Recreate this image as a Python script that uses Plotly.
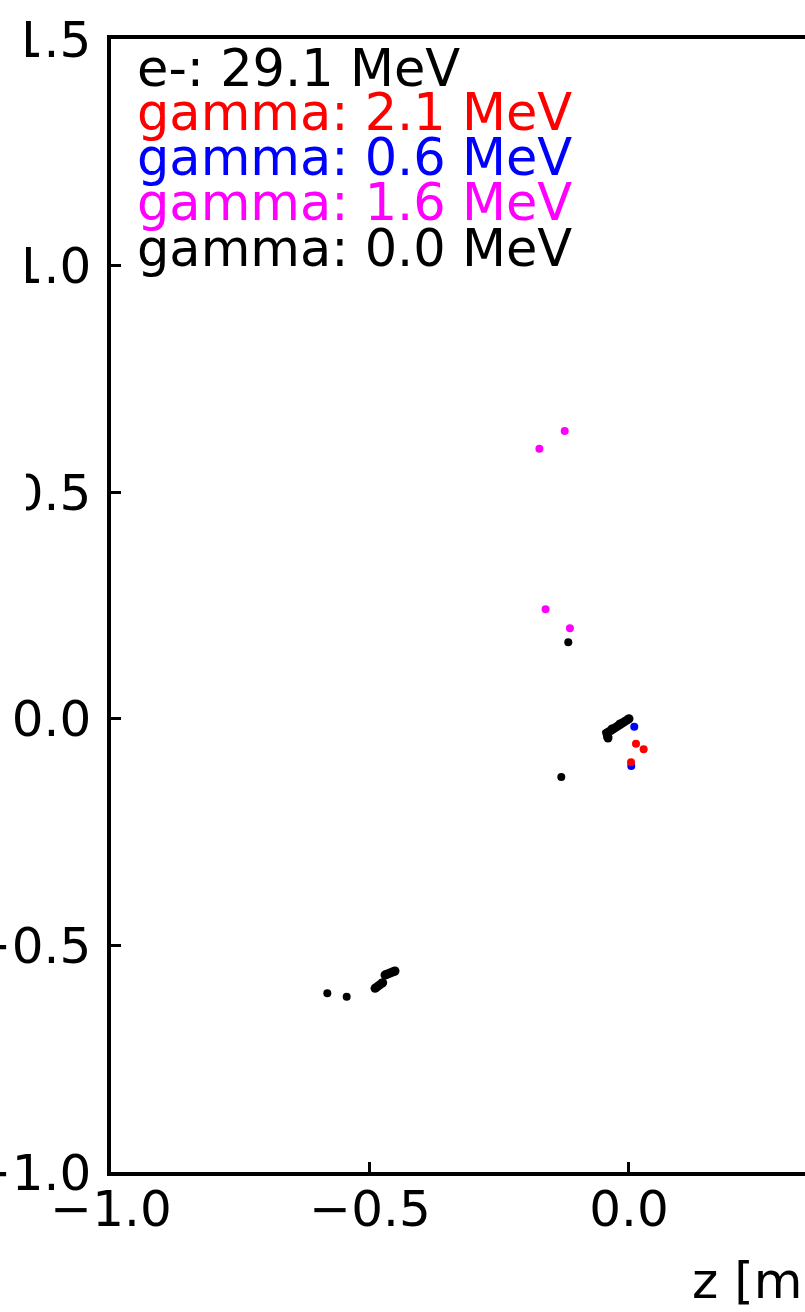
import plotly.graph_objects as go

# ---- data ----
e_track_z = [0.0, -0.0174, -0.0328, -0.0425, -0.0405]
e_track_y = [0.0, -0.0115, -0.0225, -0.0313, -0.0424]

e_blob1_z = [-0.4903, -0.4755]
e_blob1_y = [-0.5947, -0.5823]
e_blob2_z = [-0.4710, -0.4517]
e_blob2_y = [-0.5653, -0.5565]

g_blue_z = [0.0102, 0.0044]
g_blue_y = [-0.0174, -0.1040]

g_red_z = [0.0135, 0.0283, 0.0039]
g_red_y = [-0.0550, -0.0673, -0.0960]

g_mag_z = [-0.1241, -0.1730, -0.1610, -0.1140]
g_mag_y = [0.6350, 0.5960, 0.2416, 0.1997]

g_blk_z = [-0.1172, -0.1307, -0.5824, -0.5450]
g_blk_y = [0.1688, -0.1284, -0.6057, -0.6132]

legend_labels = ["e-: 29.1 MeV", "gamma: 2.1 MeV", "gamma: 0.6 MeV",
                 "gamma: 1.6 MeV", "gamma: 0.0 MeV"]
legend_colors = ["black", "#ff0000", "#0000ff", "#ff00ff", "black"]

x_tickvals = [-1.0, -0.5, 0.0, 0.5]
x_ticktext = ["\u22121.0", "\u22120.5", "0.0", "0.5"]
y_tickvals = [-1.0, -0.5, 0.0, 0.5, 1.0, 1.5]
y_ticktext = ["\u22121.0", "\u22120.5", "0.0", "0.5", "1.0", "1.5"]

FONT = "DejaVu Sans"
FS = 50

fig = go.Figure()

for zz, yy in [(e_track_z, e_track_y), (e_blob1_z, e_blob1_y), (e_blob2_z, e_blob2_y)]:
    fig.add_trace(go.Scatter(x=zz, y=yy, mode="lines+markers",
                             line=dict(color="black", width=9),
                             marker=dict(color="black", size=9),
                             showlegend=False, hoverinfo="skip"))

for zz, yy, c in [(g_blue_z, g_blue_y, "#0000ff"), (g_red_z, g_red_y, "#ff0000"),
                  (g_mag_z, g_mag_y, "#ff00ff"), (g_blk_z, g_blk_y, "black")]:
    fig.add_trace(go.Scatter(x=zz, y=yy, mode="markers",
                             marker=dict(color=c, size=8, line=dict(width=0)),
                             showlegend=False, hoverinfo="skip"))

# legend-like text block
legend_y = [0.9744, 0.9347, 0.8950, 0.8553, 0.8155]
for lab, col, yy in zip(legend_labels, legend_colors, legend_y):
    fig.add_annotation(text=lab, xref="paper", yref="paper", x=0.0346, y=yy,
                       xanchor="left", yanchor="middle", showarrow=False,
                       font=dict(family=FONT, size=51, color=col))

# x axis title (partly outside view, as in the reference)
fig.add_annotation(text="z [m]", xref="paper", yref="paper", x=0.8343, y=-0.0962,
                   xanchor="left", yanchor="middle", showarrow=False,
                   font=dict(family=FONT, size=FS, color="black"))

# white cover of the clipped positive tick labels' left part
fig.add_shape(type="rect", xref="paper", yref="paper", x0=-0.3, x1=-0.1225,
              y0=0.5049, y1=1.2, fillcolor="white", line=dict(width=0), layer="above")

fig.update_xaxes(range=[-1.0, 0.3398], tickvals=x_tickvals, ticktext=x_ticktext,
                 ticks="inside", ticklen=10, tickwidth=3, tickcolor="black",
                 showline=True, linewidth=3.5, linecolor="black", mirror=True,
                 showgrid=False, zeroline=False, ticklabelstandoff=-10,
                 automargin=False,
                 tickfont=dict(family=FONT, size=FS, color="black"))
fig.update_yaxes(range=[-1.0, 1.5], tickvals=y_tickvals, ticktext=y_ticktext,
                 ticks="inside", ticklen=10, tickwidth=3, tickcolor="black",
                 showline=True, linewidth=3.5, linecolor="black", mirror=False,
                 showgrid=False, zeroline=False, ticklabelstandoff=6,
                 automargin=False,
                 tickfont=dict(family=FONT, size=FS, color="black"))

fig.update_layout(width=805, height=1312, margin=dict(l=111, r=0, t=39, b=140),
                  plot_bgcolor="white", paper_bgcolor="white",
                  font=dict(family=FONT, size=FS, color="black"))

fig.write_html("out.html")
